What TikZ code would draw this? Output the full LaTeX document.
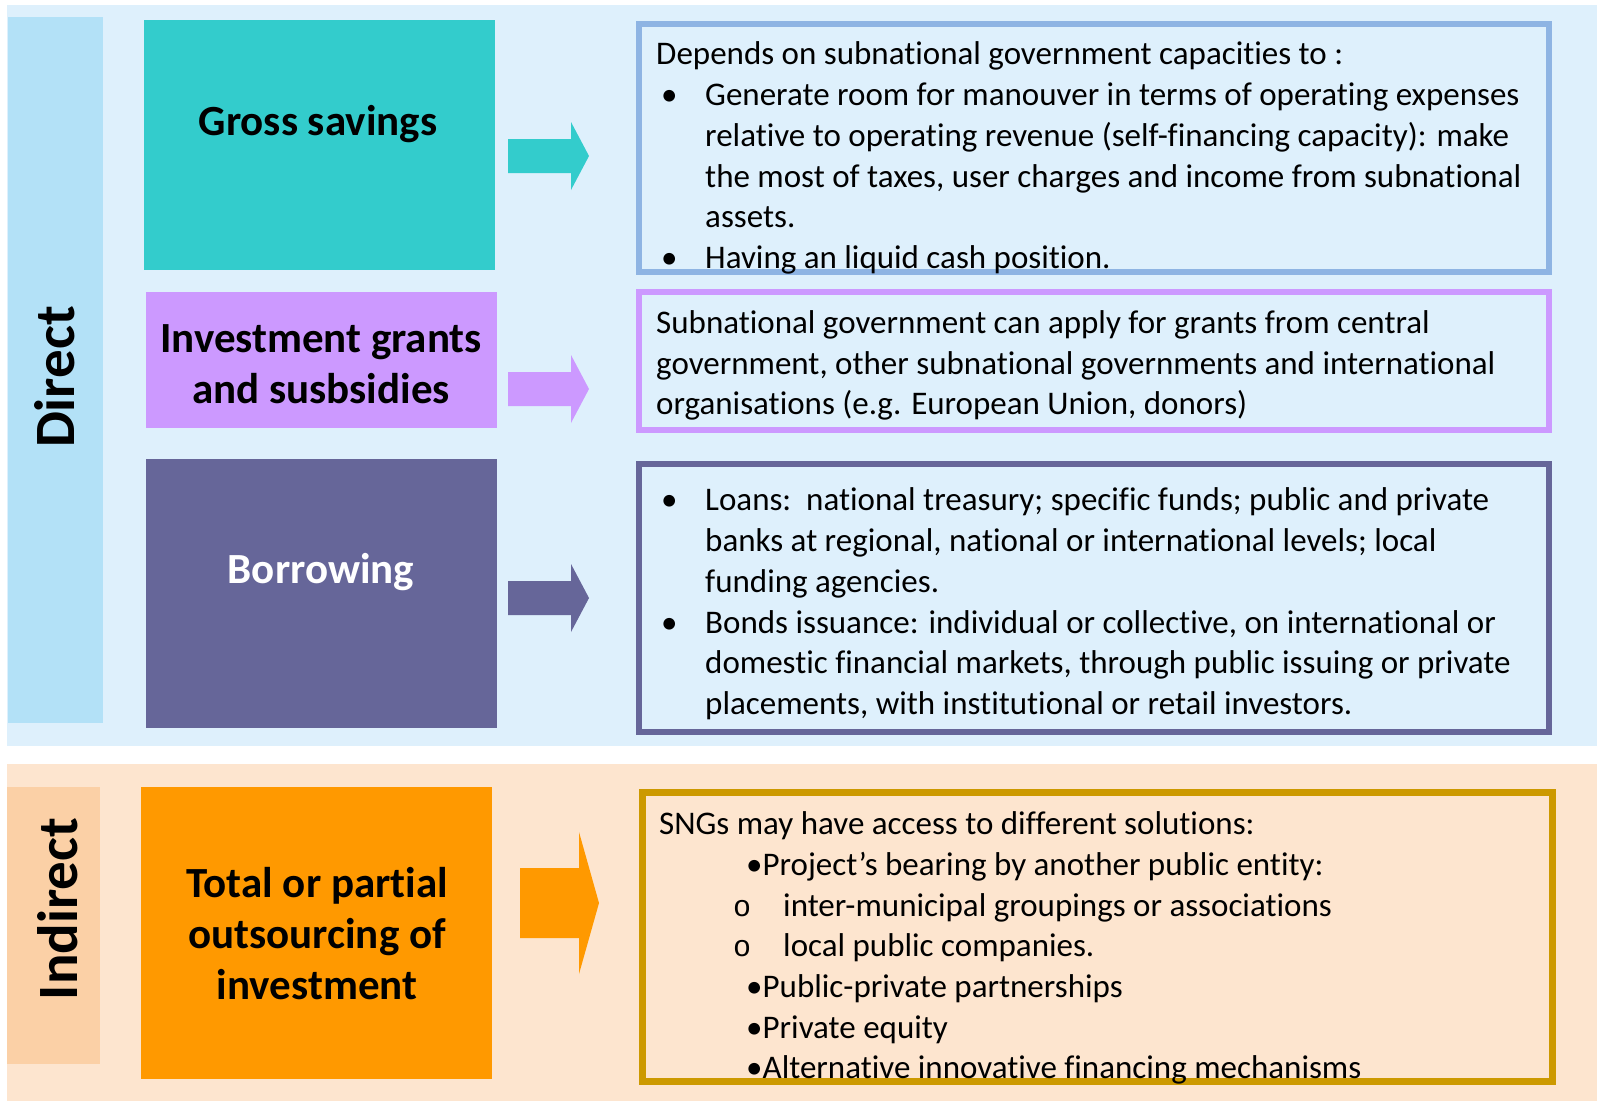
\documentclass[tikz,border=0pt]{standalone}
\usepackage{fontspec}
\setmainfont{Carlito}[Ligatures=NoCommon]
\newfontfamily\monofont{Liberation Mono}
\definecolor{panelblue}{HTML}{DEF0FC}
\definecolor{stripblue}{HTML}{B3E1F7}
\definecolor{tealbox}{HTML}{33CCCC}
\definecolor{lilac}{HTML}{CC99FF}
\definecolor{slate}{HTML}{666699}
\definecolor{framblue}{HTML}{8EB4E3}
\definecolor{panelpeach}{HTML}{FDE5CF}
\definecolor{strippeach}{HTML}{FBD0A6}
\definecolor{orangebox}{HTML}{FF9900}
\definecolor{gold}{HTML}{CC9900}
\newcommand\blt{\makebox[44pt][l]{\textbullet}}
\newcommand\cir{\makebox[50pt][l]{\fontsize{30}{30}\monofont o}}
\tikzset{
  frame/.style={draw, line width=6pt},
  title/.style={font=\fontsize{43}{51}\selectfont\bfseries, align=center, inner sep=0pt},
  side/.style={font=\fontsize{57}{60}\selectfont\bfseries, rotate=90, inner sep=0pt},
  txt/.style={anchor=base west, inner sep=0pt, font=\fontsize{33}{40.7}\selectfont},
}
\newcommand\blockarrow[8]{% color, x0, xh, xt, yc, body half, head half, name
  \fill[#1] (#2,#5-#6) -- (#3,#5-#6) -- (#3,#5-#7) -- (#4,#5) -- (#3,#5+#7) -- (#3,#5+#6) -- (#2,#5+#6) -- cycle;
  \coordinate (#8) at (#4,#5);
}
\begin{document}
\begin{tikzpicture}[x=1pt,y=-1pt]
\useasboundingbox (0,0) rectangle (1597,1101);
\fill[white] (0,0) rectangle (1597,1101);

% direct financing panel
\fill[panelblue] (7,5) rectangle (1597,746);
\fill[stripblue] (8,17) rectangle (103,723);
\node[side] (direct) at (55,377) {Direct};

\fill[tealbox] (144,20) rectangle (495,270);
\node[title] (gs) at (318,124) {Gross savings};
\fill[lilac] (146,292) rectangle (497,428);
\node[title] (ig) at (321,364) {Investment grants\\and susbsidies};
\fill[slate] (146,459) rectangle (497,728);
\node[title, text=white] (bo) at (321,572) {Borrowing};

\blockarrow{tealbox}{508}{571}{589}{156}{17}{34}{a1}
\blockarrow{lilac}{508}{571}{589}{389}{17}{34}{a2}
\blockarrow{slate}{508}{571}{589}{598}{17}{34}{a3}

\draw[frame, draw=framblue] (639,24) rectangle (1549,272);
\draw[frame, draw=lilac] (639,292) rectangle (1549,430);
\draw[frame, draw=slate] (639,464) rectangle (1549,732);

\node[txt] (t1) at (656,64) {Depends on subnational government capacities to :};
\node[txt] (t2) at (661,105) {\blt Generate room for manouver in terms of operating expenses};
\node[txt] (t3) at (705,146) {relative to operating revenue (self-financing capacity): make};
\node[txt] (t4) at (705,187) {the most of taxes, user charges and income from subnational};
\node[txt] (t5) at (705,227) {assets.};
\node[txt] (t6) at (661,268) {\blt Having an liquid cash position.};

\node[txt] (s1) at (656,333) {Subnational government can apply for grants from central};
\node[txt] (s2) at (656,374) {government, other subnational governments and international};
\node[txt] (s3) at (656,414) {organisations (e.g. European Union, donors)};

\node[txt] (b1) at (661,510) {\blt Loans:\ \ national treasury; specific funds; public and private};
\node[txt] (b2) at (705,551) {banks at regional, national or international levels; local};
\node[txt] (b3) at (705,592) {funding agencies.};
\node[txt] (b4) at (661,633) {\blt Bonds issuance: individual or collective, on international or};
\node[txt] (b5) at (705,673) {domestic financial markets, through public issuing or private};
\node[txt] (b6) at (705,714) {placements, with institutional or retail investors.};

% indirect financing panel
\fill[panelpeach] (7,764) rectangle (1597,1101);
\fill[strippeach] (7,787) rectangle (100,1064);
\node[side] (indirect) at (58,909) {Indirect};
\fill[orangebox] (141,787) rectangle (492,1079);
\node[title] (to) at (317,934) {Total or partial\\outsourcing of\\investment};
\blockarrow{orangebox}{520}{579}{599}{903}{35}{71}{a4}
\draw[frame, line width=7pt, draw=gold] (642.5,792.5) rectangle (1552.5,1081.5);

\node[txt] (n1) at (659,834) {SNGs may have access to different solutions:};
\node[txt] (n2) at (746,875) {\textbullet Project’s bearing by another public entity:};
\node[txt] (n3) at (733,916) {\cir inter-municipal groupings or associations};
\node[txt] (n4) at (733,956) {\cir local public companies.};
\node[txt] (n5) at (746,997) {\textbullet Public-private partnerships};
\node[txt] (n6) at (746,1038) {\textbullet Private equity};
\node[txt] (n7) at (746,1078) {\textbullet Alternative innovative financing mechanisms};
\end{tikzpicture}
\end{document}
